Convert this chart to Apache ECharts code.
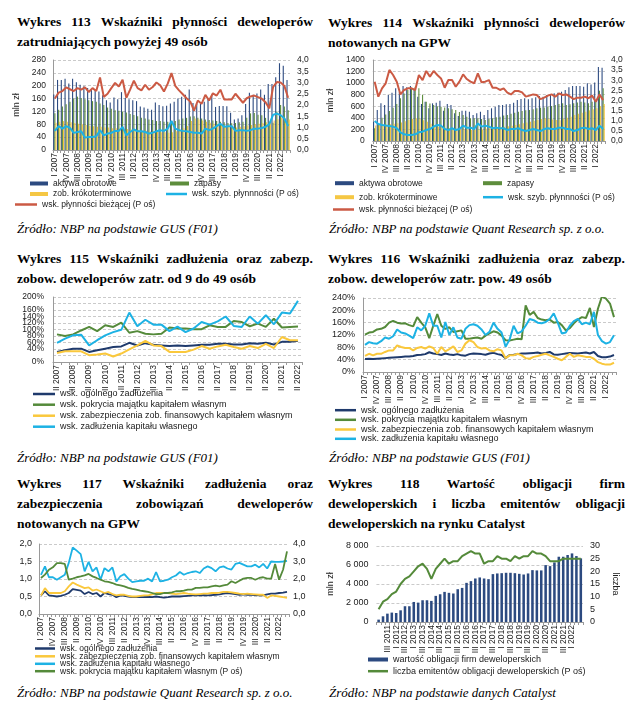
<!DOCTYPE html>
<html><head><meta charset="utf-8">
<script src="https://cdn.jsdelivr.net/npm/echarts@6/dist/echarts.min.js"></script>
<style>
html,body{margin:0;padding:0;background:#fff;}
body{width:636px;height:725px;position:relative;overflow:hidden;font-family:"Liberation Serif","Times New Roman",serif;color:#000;}
.t{position:absolute;font-weight:bold;font-size:13.5px;line-height:20px;}
.t div{text-align:justify;text-align-last:justify;}
.t div.l{text-align:left;text-align-last:left;}
.c{position:absolute;font-style:italic;font-size:13px;line-height:16px;white-space:nowrap;}
.ch{position:absolute;}
</style></head>
<body>
<div class="t" style="left:17px;top:12px;width:296px;"><div>Wykres 113 Wskaźniki płynności deweloperów</div><div class="l">zatrudniających powyżej 49 osób</div></div>
<div class="t" style="left:328px;top:13px;width:297px;"><div>Wykres 114 Wskaźniki płynności deweloperów</div><div class="l">notowanych na GPW</div></div>
<div class="t" style="left:17px;top:249px;width:296px;"><div>Wykres 115 Wskaźniki zadłużenia oraz zabezp.</div><div class="l">zobow. deweloperów zatr. od 9 do 49 osób</div></div>
<div class="t" style="left:328px;top:249px;width:297px;"><div>Wykres 116 Wskaźniki zadłużenia oraz zabezp.</div><div class="l">zobow. deweloperów zatr. pow. 49 osób</div></div>
<div class="t" style="left:17px;top:474px;width:296px;"><div>Wykres 117 Wskaźniki zadłużenia oraz</div><div>zabezpieczenia zobowiązań deweloperów</div><div class="l">notowanych na GPW</div></div>
<div class="t" style="left:328px;top:474px;width:297px;"><div>Wykres 118 Wartość obligacji firm</div><div>deweloperskich i liczba emitentów obligacji</div><div class="l">deweloperskich na rynku Catalyst</div></div>

<div class="c" style="left:17px;top:221px;">Źródło: NBP na podstawie GUS (F01)</div>
<div class="c" style="left:329px;top:221px;">Źródło: NBP na podstawie Quant Research sp. z o.o.</div>
<div class="c" style="left:17px;top:450px;">Źródło: NBP na podstawie GUS (F01)</div>
<div class="c" style="left:329px;top:450px;">Źródło: NBP na podstawie GUS (F01)</div>
<div class="c" style="left:17px;top:685px;">Źródło: NBP na podstawie Quant Research sp. z o.o.</div>
<div class="c" style="left:329px;top:685px;">Źródło: NBP na podstawie danych Catalyst</div>

<div id="c113" class="ch" style="left:0px;top:52px;width:318px;height:165px;"></div>
<div id="c114" class="ch" style="left:318px;top:52px;width:318px;height:165px;"></div>
<div id="c115" class="ch" style="left:0px;top:288px;width:318px;height:160px;"></div>
<div id="c116" class="ch" style="left:318px;top:288px;width:318px;height:162px;"></div>
<div id="c117" class="ch" style="left:0px;top:535px;width:318px;height:150px;"></div>
<div id="c118" class="ch" style="left:318px;top:535px;width:318px;height:150px;"></div>

<script>
// ---------- categories ----------
const quarters0722 = ["I 2007","II 2007","III 2007","IV 2007","I 2008","II 2008","III 2008","IV 2008",
"I 2009","II 2009","III 2009","IV 2009","I 2010","II 2010","III 2010","IV 2010",
"I 2011","II 2011","III 2011","IV 2011","I 2012","II 2012","III 2012","IV 2012",
"I 2013","II 2013","III 2013","IV 2013","I 2014","II 2014","III 2014","IV 2014",
"I 2015","II 2015","III 2015","IV 2015","I 2016","II 2016","III 2016","IV 2016",
"I 2017","II 2017","III 2017","IV 2017","I 2018","II 2018","III 2018","IV 2018",
"I 2019","II 2019","III 2019","IV 2019","I 2020","II 2020","III 2020","IV 2020",
"I 2021","II 2021","III 2021","IV 2021","I 2022","II 2022","III 2022"];
const halfYears0722 = ["II 2007","IV 2007","II 2008","IV 2008","II 2009","IV 2009","II 2010","IV 2010",
"II 2011","IV 2011","II 2012","IV 2012","II 2013","IV 2013","II 2014","IV 2014",
"II 2015","IV 2015","II 2016","IV 2016","II 2017","IV 2017","II 2018","IV 2018",
"II 2019","IV 2019","II 2020","IV 2020","II 2021","IV 2021","II 2022"];
const quarters1122 = ["I 2011","II 2011","III 2011","IV 2011","I 2012","II 2012","III 2012","IV 2012",
"I 2013","II 2013","III 2013","IV 2013","I 2014","II 2014","III 2014","IV 2014",
"I 2015","II 2015","III 2015","IV 2015","I 2016","II 2016","III 2016","IV 2016",
"I 2017","II 2017","III 2017","IV 2017","I 2018","II 2018","III 2018","IV 2018",
"I 2019","II 2019","III 2019","IV 2019","I 2020","II 2020","III 2020","IV 2020",
"I 2021","II 2021","III 2021","IV 2021","I 2022","II 2022","III 2022"];

// ---------- Wykres 113 ----------
const w113_aktywa = [173,218,218,222,207,222,211,203,198,193,190,186,182,170,155,148,163,158,180,162,158,155,152,135,132,128,125,148,140,136,138,145,150,160,166,172,188,146,143,145,150,160,172,134,137,137,136,116,95,98,108,143,178,172,176,188,172,205,205,226,270,262,218];
const w113_zapasy = [114,125,135,142,150,160,166,162,158,155,152,150,145,140,132,128,124,122,120,117,112,109,105,100,98,95,93,90,90,88,88,88,90,95,98,100,104,105,100,98,95,93,92,90,88,86,84,83,84,86,88,100,114,115,110,108,100,88,85,120,140,135,124];
const w113_zobow = [85,88,90,88,86,84,82,80,78,75,74,72,72,70,70,68,68,66,65,65,64,63,62,60,60,58,57,56,55,55,54,55,58,62,68,75,90,98,95,92,88,85,82,80,78,75,72,70,70,72,74,76,78,80,82,84,86,88,92,96,100,98,95];
const w113_szybka = [0.85,1.06,0.95,1.06,0.98,0.76,0.80,0.83,0.55,0.58,0.58,0.61,0.88,0.65,0.73,0.76,0.85,0.85,1.03,0.65,0.80,0.91,0.83,0.83,0.80,0.73,0.77,0.83,0.88,0.85,0.95,1.29,0.95,0.88,0.85,0.83,0.80,0.77,0.77,0.73,0.95,0.88,0.95,1.06,1.17,1.03,1.06,1.06,0.85,0.88,0.88,0.85,0.88,0.95,0.95,0.98,1.03,1.15,1.56,1.62,1.55,1.40,1.06];
const w113_biezaca = [2.29,2.55,2.62,2.78,2.70,2.62,2.75,2.68,2.78,2.58,2.75,2.62,3.22,2.36,2.50,2.75,2.98,2.82,3.12,2.32,2.68,3.08,2.75,2.65,2.90,2.68,2.80,3.00,2.88,2.60,2.95,3.42,2.85,2.65,2.48,2.30,2.15,1.75,2.20,2.05,2.45,2.20,2.52,2.42,2.68,2.25,2.25,2.25,2.50,2.30,2.10,2.30,2.38,2.42,2.35,2.28,2.12,1.85,2.80,3.02,3.00,2.85,2.32];

// ---------- Wykres 114 ----------
const w114_aktywa = [334,536,651,622,795,835,910,850,950,927,950,881,766,640,680,565,651,662,697,524,640,622,478,432,524,524,507,449,478,507,449,536,565,593,622,622,634,640,662,709,726,737,720,737,755,778,766,795,806,824,835,852,881,927,950,950,950,939,997,975,1010,1279,1267];
const w114_zapasy = [220,300,400,460,520,576,640,737,820,880,920,939,910,800,680,650,622,600,593,580,565,550,536,500,449,420,392,392,392,380,363,380,392,410,420,440,449,470,490,507,518,530,536,550,565,576,580,593,605,622,640,651,622,634,651,665,680,665,651,680,709,870,910];
const w114_zobow = [270,275,280,285,290,300,305,320,340,363,380,392,380,360,334,300,270,248,240,230,219,215,210,205,200,195,190,190,195,200,210,219,225,230,240,248,255,265,276,290,305,320,334,350,363,380,392,380,370,363,360,380,400,420,449,470,490,507,530,550,565,600,640];
const w114_szybka = [0.99,0.84,0.79,0.76,0.74,0.71,0.63,0.43,0.33,0.30,0.30,0.33,0.43,0.46,0.54,0.59,0.71,0.79,0.76,0.59,0.54,0.63,0.54,0.59,0.76,0.66,0.66,0.59,0.87,0.71,0.76,0.71,0.63,0.66,0.63,0.63,0.54,0.59,0.59,0.63,0.54,0.49,0.54,0.59,0.54,0.49,0.59,0.63,0.59,0.59,0.66,0.66,0.59,0.59,0.49,0.54,0.63,0.66,0.59,0.63,0.54,0.76,0.59];
const w114_biezaca = [2.93,2.19,2.60,2.85,3.51,3.26,2.93,2.30,2.52,2.60,2.60,2.52,3.26,3.01,3.46,3.18,3.46,3.26,3.09,2.63,3.01,3.01,2.68,2.93,3.29,3.06,2.93,2.85,3.34,2.90,2.93,3.01,2.63,2.63,2.52,2.60,2.39,2.30,2.47,2.47,2.40,2.19,2.24,2.30,2.27,2.07,2.14,2.24,2.30,2.19,2.35,2.27,2.30,2.19,2.07,2.14,2.14,2.19,2.11,2.24,1.94,2.30,2.02];

// ---------- Wykres 115 (%) ----------
const w115_ogolne = [31,36,41,41,31,36,41,46,48,59,51,58,53,51,49,51,49,51,53,53,56,56,54,54,58,56,59,54,62,62,65];
const w115_pokrycie = [85,80,85,97,108,95,113,108,121,90,95,87,85,87,106,103,103,101,101,113,108,108,126,123,110,118,108,133,106,108,109];
const w115_zabezp = [28,33,33,33,21,23,26,17,26,39,51,65,51,49,31,31,31,38,49,41,48,53,46,41,49,43,56,43,77,67,67];
const w115_kapital = [59,72,82,84,51,67,82,92,99,152,110,130,115,115,95,109,92,103,123,115,125,140,111,108,140,118,144,116,152,149,188];

// ---------- Wykres 116 (%) ----------
const w116_ogolne = [42,43,42,43,44,45,46,47,48,49,50,50,52,55,56,58,64,60,58,55,60,57,55,58,54,53,58,60,59,58,56,60,62,58,55,45,55,56,58,60,60,61,62,63,60,62,65,57,56,58,60,62,61,60,62,63,60,65,52,48,48,50,55];
const w116_pokrycie = [121,128,130,138,140,146,160,166,160,157,158,152,148,178,160,145,110,150,188,150,140,145,130,132,135,108,108,110,112,108,118,125,132,128,118,103,102,105,108,106,216,185,195,175,170,168,170,160,162,152,135,142,158,170,178,175,208,146,205,245,238,222,178];
const w116_zabezp = [52,59,54,59,59,65,70,70,86,81,78,78,70,78,81,76,83,78,59,81,67,74,83,65,70,92,103,97,81,76,78,70,67,74,70,45,54,54,59,54,45,43,49,52,56,59,54,49,43,38,49,59,49,54,52,49,49,43,32,27,24,24,30];
const w116_kapital = [88,97,93,92,100,112,108,116,138,128,125,118,110,145,135,150,190,150,150,112,162,120,145,112,108,140,152,155,150,138,120,130,160,140,128,82,105,150,125,132,150,172,168,160,158,162,172,190,160,125,128,150,165,172,155,160,155,195,120,100,92,97,119];

// ---------- Wykres 117 ----------
const w117_ogolne = [0.53,0.65,0.53,0.52,0.50,0.52,0.55,0.60,0.71,0.69,0.67,0.57,0.63,0.57,0.60,0.50,0.60,0.57,0.55,0.48,0.53,0.52,0.50,0.48,0.48,0.48,0.48,0.49,0.48,0.50,0.48,0.47,0.48,0.50,0.50,0.50,0.51,0.52,0.53,0.53,0.53,0.54,0.53,0.54,0.55,0.56,0.58,0.60,0.58,0.57,0.55,0.56,0.55,0.55,0.54,0.53,0.53,0.56,0.58,0.58,0.60,0.61,0.63];
const w117_zabezp = [0.53,0.74,0.60,0.60,0.60,0.60,0.65,0.79,0.90,0.84,0.79,0.74,0.76,0.67,0.70,0.65,0.60,0.63,0.57,0.53,0.55,0.55,0.52,0.50,0.50,0.52,0.53,0.53,0.56,0.60,0.60,0.60,0.60,0.58,0.57,0.58,0.60,0.58,0.57,0.56,0.57,0.58,0.58,0.60,0.60,0.61,0.63,0.63,0.62,0.60,0.58,0.57,0.58,0.57,0.56,0.55,0.55,0.46,0.53,0.52,0.50,0.48,0.46];
const w117_kapital = [1.12,1.36,1.05,1.05,0.98,1.05,1.12,1.46,1.90,1.81,1.71,1.22,1.49,1.22,1.33,0.98,1.31,1.22,1.33,0.93,1.08,1.14,1.01,0.91,0.93,0.95,0.95,1.01,0.93,1.20,0.93,0.95,0.98,1.05,1.10,1.20,1.12,1.17,1.20,1.22,1.17,1.30,1.36,1.31,1.22,1.33,1.36,1.30,1.27,1.43,1.46,1.41,1.36,1.36,1.41,1.33,1.43,1.30,1.50,1.49,1.49,1.50,1.52];
const w117_pokrycie = [2.06,2.25,2.53,2.67,2.91,2.91,2.86,1.96,2.02,2.10,2.15,2.21,2.29,2.15,2.06,1.96,1.87,1.83,1.77,1.68,1.64,1.58,1.49,1.43,1.39,1.33,1.30,1.26,1.20,1.14,1.14,1.20,1.20,1.24,1.30,1.30,1.33,1.39,1.39,1.49,1.49,1.52,1.52,1.58,1.62,1.58,1.64,1.68,1.87,1.77,1.90,2.02,2.06,2.06,1.96,2.06,2.10,2.02,2.02,2.86,1.96,2.53,3.58];

// ---------- Wykres 118 ----------
const w118_wartosc = [250,600,880,990,950,1230,1660,1660,2110,2040,2290,2290,2220,2750,2920,3170,3070,3000,3450,3590,4120,4300,4580,4690,4580,4510,5040,5110,5140,5180,5180,5140,5070,5000,5110,5460,5430,5430,5990,5880,6270,6870,6870,7050,7220,6940,6700];
const w118_emitenci = [5,8,9,11,12,15,17,18,20,22,23,21,17,21,23,25,23,24,24,26,27,28,27,27,23,24,24,26,25,25,24,26,25,26,26,28,27,27,26,24,24,24,25,25,25,25,25];

// ---------- styles ----------
const C = {navy:'#2C4A80', green:'#5D8D3C', yellow:'#F5C744', cyan:'#1DB2E4', red:'#CB5A44',
  lnavy:'#1F3A6C', lgreen:'#548A3A', lyellow:'#FAC83C'};
const FONT = 'Liberation Sans';
const comma1 = v => v.toFixed(1).replace('.', ',');
const pct = v => v + '%';
const thou = v => String(v).replace(/\B(?=(\d{3})+(?!\d))/g, ' ');

function xCat(data, interval) {
  return {type:'category', data, boundaryGap:true,
    axisLine:{show:true, lineStyle:{color:'#9a9a9a', width:1}},
    axisTick:{show:true, interval:0, length:3, lineStyle:{color:'#9a9a9a'}},
    axisLabel:{rotate:90, interval, fontSize:8.5, fontFamily:FONT, color:'#222', margin:3, hideOverlap:false},
    splitLine:{show:false}};
}
function yVal(o) {
  return Object.assign({type:'value', min:o.min, max:o.max, interval:o.interval, position:o.position||'left',
    axisLine:{show:!!o.line, lineStyle:{color:'#9a9a9a'}},
    axisTick:{show:false},
    axisLabel:{formatter:o.fmt, fontSize:o.fs||8.5, fontFamily:FONT, color:'#222', margin:o.margin||7,
      showMinLabel:true, showMaxLabel:true, hideOverlap:false, lineHeight:o.lh||10},
    splitLine:{show:!!o.split, lineStyle:{color:'#bdbdbd', type:[3,2], width:0.8}}
  }, o.name ? {name:o.name, nameLocation:'middle', nameGap:o.nameGap, nameRotate:o.nameRotate,
    nameTextStyle:{fontSize:9, fontFamily:FONT, color:'#222'}} : {});
}
function leg(name, left, top, w, h, fs) {
  return {show:true, data:[name], left, top, itemWidth:w, itemHeight:h, icon:'rect', padding:0, itemGap:0,
    selectedMode:false, textStyle:{fontSize:fs||8.5, fontFamily:FONT, color:'#1a1a1a'}};
}
function bar(name, data, color, extra) {
  return Object.assign({name, type:'bar', data, itemStyle:{color}, barGap:'0%', barCategoryGap:'12%'}, extra||{});
}
function line(name, data, color, width, yi) {
  return {name, type:'line', data, yAxisIndex:yi||0, symbol:'none', showSymbol:false,
    lineStyle:{color, width:width||2}, itemStyle:{color}};
}
function mk(id, opt) {
  const ch = echarts.init(document.getElementById(id), null, {renderer:'canvas'});
  opt.animation = false;
  ch.setOption(opt);
}

// 113
mk('c113', {
  grid:{left:53, top:8, width:237, height:90},
  xAxis: xCat(quarters0722, 2),
  yAxis: [yVal({min:0,max:280,interval:40,fmt:v=>String(v),split:true,line:true,name:'mln zł',nameGap:31}),
          yVal({min:0,max:4,interval:0.5,fmt:comma1,position:'right'})],
  legend: [leg('aktywa obrotowe',30,127,18,4), leg('zapasy',170,127,19,4),
           leg('zob. krókoterminowe',30,137.5,18,4), leg('wsk. szyb. płynnności (P oś)',166,137.5,21,2.5),
           leg('wsk. płynności bieżącej (P oś)',15,148,22,2.5)],
  series: [bar('aktywa obrotowe', w113_aktywa, C.navy), bar('zapasy', w113_zapasy, C.green),
           bar('zob. krókoterminowe', w113_zobow, C.yellow),
           line('wsk. szyb. płynnności (P oś)', w113_szybka, C.cyan, 2, 1),
           line('wsk. płynności bieżącej (P oś)', w113_biezaca, C.red, 2, 1)]
});

// 114
mk('c114', {
  grid:{left:50, top:8, width:237, height:81},
  xAxis: xCat(quarters0722, 2),
  yAxis: [yVal({min:0,max:1400,interval:200,fmt:v=>String(v),split:true,line:true,name:'mln zł',nameGap:35,margin:8}),
          yVal({min:0,max:4,interval:0.5,fmt:comma1,position:'right',margin:6})],
  legend: [leg('aktywa obrotowe',17,126.7,19,4), leg('zapasy',165,126.7,19,4),
           leg('zob. krókoterminowe',17,140.7,19,4), leg('wsk. szyb. płynnności (P oś)',165,140.7,20,2.5),
           leg('wsk. płynności bieżącej (P oś)',15,153,21,2.5)],
  series: [bar('aktywa obrotowe', w114_aktywa, C.navy), bar('zapasy', w114_zapasy, C.green),
           bar('zob. krókoterminowe', w114_zobow, C.yellow),
           line('wsk. szyb. płynnności (P oś)', w114_szybka, C.cyan, 2, 1),
           line('wsk. płynności bieżącej (P oś)', w114_biezaca, C.red, 2, 1)]
});

// 115
mk('c115', {
  grid:{left:53, top:9, width:249, height:65},
  xAxis: xCat(halfYears0722, 1),
  yAxis: yVal({min:0,max:200,interval:20,fmt:pct,split:true,line:true,fs:8.5,margin:9,lh:6}),
  legend: [leg('wsk. ogólnego zadłużenia',33,101.5,22,2.5,9),
           leg('wsk. pokrycia majątku kapitałem własnym',33,112.2,22,2.5,9),
           leg('wsk. zabezpieczenia zob. finansowych kapitałem własnym',33,123.2,22,2.5,9),
           leg('wsk. zadłużenia kapitału własnego',33,134.2,22,2.5,9)],
  series: [line('wsk. ogólnego zadłużenia', w115_ogolne, C.lnavy, 2),
           line('wsk. pokrycia majątku kapitałem własnym', w115_pokrycie, C.lgreen, 2),
           line('wsk. zabezpieczenia zob. finansowych kapitałem własnym', w115_zabezp, C.lyellow, 2),
           line('wsk. zadłużenia kapitału własnego', w115_kapital, C.cyan, 2)]
});

// 116
mk('c116', {
  grid:{left:45, top:10, width:253, height:74},
  xAxis: xCat(quarters0722, 2),
  yAxis: yVal({min:0,max:240,interval:40,fmt:pct,split:true,line:true,fs:9,margin:8}),
  legend: [leg('wsk. ogólnego zadłużenia',17,117.7,21,2.5,9),
           leg('wsk. pokrycia majątku kapitałem własnym',17,127.3,21,2.5,9),
           leg('wsk. zabezpieczenia zob. finansowych kapitałem własnym',17,137,21,2.5,9),
           leg('wsk. zadłużenia kapitału własnego',17,146.3,21,2.5,9)],
  series: [line('wsk. ogólnego zadłużenia', w116_ogolne, C.lnavy, 2),
           line('wsk. pokrycia majątku kapitałem własnym', w116_pokrycie, C.lgreen, 2),
           line('wsk. zabezpieczenia zob. finansowych kapitałem własnym', w116_zabezp, C.lyellow, 2),
           line('wsk. zadłużenia kapitału własnego', w116_kapital, C.cyan, 2)]
});

// 117
mk('c117', {
  grid:{left:39, top:9, width:250, height:70},
  xAxis: xCat(quarters0722, 2),
  yAxis: [yVal({min:0,max:2,interval:0.5,fmt:comma1,split:true,line:true,fs:9,margin:7}),
          yVal({min:0,max:4,interval:1,fmt:comma1,position:'right',fs:9,margin:4})],
  legend: [leg('wsk. ogólnego zadłużenia',35,109,20,2.5),
           leg('wsk. zabezpieczenia zob. finansowych kapitałem własnym',35,116.8,20,2.5),
           leg('wsk. zadłużenia kapitału własnego',35,124.3,20,2.5),
           leg('wsk. pokrycia majątku kapitałem własnym (P oś)',35,131.7,20,2.5)],
  series: [line('wsk. ogólnego zadłużenia', w117_ogolne, C.lnavy, 1.8),
           line('wsk. zabezpieczenia zob. finansowych kapitałem własnym', w117_zabezp, C.lyellow, 1.8),
           line('wsk. zadłużenia kapitału własnego', w117_kapital, C.cyan, 1.8),
           line('wsk. pokrycia majątku kapitałem własnym (P oś)', w117_pokrycie, C.lgreen, 1.8, 1)]
});

// 118
mk('c118', {
  grid:{left:56, top:11, width:209, height:76},
  xAxis: xCat(quarters1122, 1),
  yAxis: [yVal({min:0,max:8000,interval:2000,fmt:thou,split:true,fs:9,margin:8,name:'mln zł',nameGap:41}),
          yVal({min:0,max:30,interval:5,fmt:v=>String(v),position:'right',fs:9,margin:7,name:'liczba',nameGap:26,nameRotate:-90})],
  legend: [leg('wartość obligacji firm deweloperskich',50,120,20,4,9),
           leg('liczba emitentów obligacji deweloperskich (P oś)',50,131.7,20,2.5,9)],
  series: [bar('wartość obligacji firm deweloperskich', w118_wartosc, C.navy, {barCategoryGap:'42%'}),
           line('liczba emitentów obligacji deweloperskich (P oś)', w118_emitenci, C.lgreen, 2, 1)]
});
</script>
</body></html>
